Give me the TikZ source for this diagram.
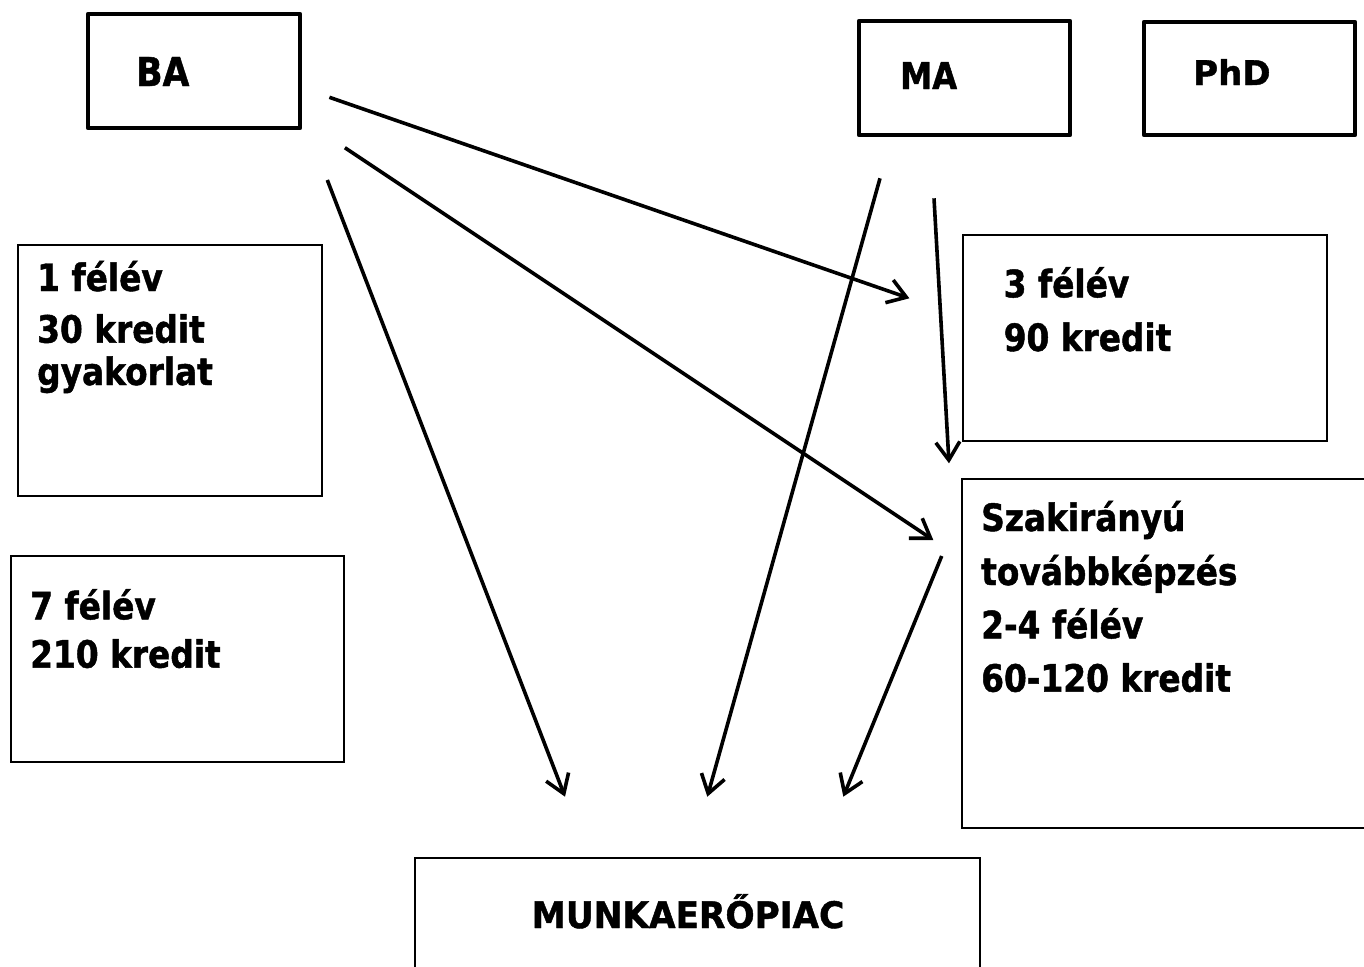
\documentclass[tikz,border=0pt]{standalone}
\usepackage{fontspec}
\newfontfamily\vb[FakeStretch=0.87,FakeBold=1.2]{DejaVu Sans}
\newfontfamily\vbw[FakeStretch=0.94,FakeBold=1.2]{DejaVu Sans}
\newfontfamily\vbp[FakeStretch=1.0,FakeBold=1.2]{DejaVu Sans}
\usetikzlibrary{arrows.meta}
\begin{document}
\begin{tikzpicture}[x=1pt,y=-1pt,
  thickbox/.style={draw, line width=4.6pt, line join=round, inner sep=0pt},
  thinbox/.style={draw, line width=2.3pt, inner sep=0pt},
  lbl/.style={anchor=base west, inner sep=0pt, font=\vb\bfseries\fontsize{37.7}{40}\selectfont},
  conn/.style={line width=3.6pt, -{Straight Barb[length=18pt,width=24pt]}}]
\useasboundingbox (0,0) rectangle (1364,966);
\fill[white] (0,0) rectangle (1364,966);
% boxes
\node[thickbox, minimum width=212pt, minimum height=114pt] (ba) at (194,71) {};
\node[thickbox, minimum width=211pt, minimum height=114pt] (ma) at (964.5,78) {};
\node[thickbox, minimum width=211pt, minimum height=113pt] (phd) at (1249.5,78.5) {};
\node[thinbox, minimum width=304pt, minimum height=251pt] (b1) at (170,370.5) {};
\node[thinbox, minimum width=333pt, minimum height=206pt] (b7) at (177.5,659) {};
\node[thinbox, minimum width=364pt, minimum height=206pt] (b3) at (1145,338) {};
\node[thinbox, minimum width=410pt, minimum height=349pt] (bsz) at (1167,653.5) {};
\node[thinbox, minimum width=565pt, minimum height=122pt] (bm) at (697.5,919) {};
% texts
\node[lbl, font=\vb\bfseries\fontsize{39.8}{42}\selectfont] (tba) at (136,86) {BA};
\node[lbl, font=\vb\bfseries\fontsize{37}{40}\selectfont] (tma) at (900,89) {MA};
\node[lbl, font=\vbp\bfseries\fontsize{34}{36}\selectfont] (tphd) at (1193,85) {PhD};
\node[lbl] (t1a) at (37,291) {1 félév};
\node[lbl] (t1b) at (37,342.7) {30 kredit};
\node[lbl] (t1c) at (37,385) {gyakorlat};
\node[lbl] (t7a) at (30,619.3) {7 félév};
\node[lbl] (t7b) at (30,667.7) {210 kredit};
\node[lbl] (t3a) at (1003.5,297.3) {3 félév};
\node[lbl] (t3b) at (1003.5,351) {90 kredit};
\node[lbl] (ts1) at (981,531) {Szakirányú};
\node[lbl] (ts2) at (981,585) {továbbképzés};
\node[lbl] (ts3) at (981,638.3) {2-4 félév};
\node[lbl] (ts4) at (981,691.7) {60-120 kredit};
\node[anchor=base, inner sep=0pt, font=\vbw\bfseries\fontsize{36.5}{40}\selectfont] (tm) at (688,928) {MUNKAERŐPIAC};
% arrow end points
\coordinate (a1s) at (329.4,97.3);  \coordinate (a1e) at (909.4,298.3);
\coordinate (a2s) at (344.9,147.7); \coordinate (a2e) at (933.3,540);
\coordinate (a3s) at (327.3,180);   \coordinate (a3e) at (565,796.7);
\coordinate (a4s) at (880,178.3);   \coordinate (a4e) at (707.3,796.7);
\coordinate (a5s) at (934,198.3);   \coordinate (a5e) at (949,463.3);
\coordinate (a6s) at (941.7,556);   \coordinate (a6e) at (843.3,796.7);
\draw[conn] (a1s) -- (a1e);
\draw[conn] (a2s) -- (a2e);
\draw[conn] (a3s) -- (a3e);
\draw[conn] (a4s) -- (a4e);
\draw[conn] (a5s) -- (a5e);
\draw[conn] (a6s) -- (a6e);
\end{tikzpicture}
\end{document}
